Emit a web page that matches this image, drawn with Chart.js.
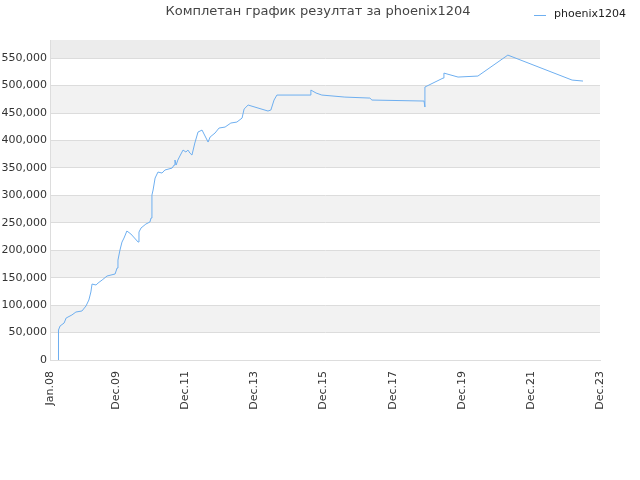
<!DOCTYPE html>
<html>
<head>
<meta charset="utf-8">
<script src="https://cdn.jsdelivr.net/npm/chart.js@4"></script>
<style>
  html, body { margin: 0; padding: 0; background: #fff; }
  #wrap { width: 640px; height: 480px; }
</style>
</head>
<body>
<div id="wrap"><canvas id="c"></canvas></div>
<script>
// x = months since Jan 2008, y = score
var months = [2.8, 2.8, 3.1, 3.5, 4.9, 5.6, 7.6, 9.0, 11.1, 12.5, 13.5, 14.2, 14.6, 16.0, 16.7, 18.1, 19.8, 22.6,
  23.3, 23.6, 24.3, 25.0, 25.7, 26.7, 28.1, 30.6, 30.9, 31.6, 33.3, 34.7, 35.1, 35.4, 35.8, 36.5, 37.5, 38.9,
  39.9, 42.4, 43.1, 43.4, 43.8, 44.4, 45.1, 46.2, 47.2, 47.9, 48.6, 49.3, 50.3, 51.4, 52.8, 54.9, 55.6, 57.3,
  58.7, 60.8, 62.8, 64.9, 66.7, 67.4, 68.8, 75.7, 76.7, 77.8, 78.8, 90.3, 90.6, 92.4, 94.4, 102.4, 111.1, 111.8,
  129.9, 130.2, 130.2, 136.5, 136.8, 141.7, 148.6, 159.0, 181.3, 185.1];
var scores = [0, 27300, 54600, 62000, 67400, 76500, 82000, 87400, 89300, 98400, 109300, 123900, 138400, 136600,
  140300, 145700, 153000, 156700, 167600, 182100, 200400, 214900, 222200, 235000, 229500, 214900, 233100, 240400,
  247700, 251400, 258700, 300500, 309700, 331500, 342400, 340600, 346100, 349700, 355200, 364300, 355200, 364300,
  371600, 382500, 378900, 382500, 377000, 373400, 395300, 415300, 418900, 397100, 406200, 413500, 422600, 424400,
  431700, 433500, 440800, 457200, 464500, 453600, 455400, 473600, 482700, 482700, 491800, 486400, 482700, 479000,
  477200, 473600, 471800, 460900, 497300, 513600, 522700, 515500, 517300, 555500, 510000, 508200];
var tickMonths = [0, 23, 47, 71, 95, 119, 143, 167, 191];
var tickLabels = ['Jan.08', 'Dec.09', 'Dec.11', 'Dec.13', 'Dec.15', 'Dec.17', 'Dec.19', 'Dec.21', 'Dec.23'];
var playerName = 'phoenix1204';
var lineColor = 'rgb(110,175,240)';

var points = months.map(function(m, i) { return { x: m, y: scores[i] }; });

var decor = {
  id: 'decor',
  beforeDraw: function(chart) {
    var ctx = chart.ctx, a = chart.chartArea, y = chart.scales.y;
    ctx.save();
    for (var v = 50000; v < 550000; v += 100000) {
      ctx.fillStyle = '#f2f2f2';
      ctx.fillRect(a.left, y.getPixelForValue(v + 50000), a.right - a.left, y.getPixelForValue(v) - y.getPixelForValue(v + 50000));
    }
    ctx.fillStyle = '#ececec';
    ctx.fillRect(a.left, a.top, a.right - a.left, y.getPixelForValue(550000) - a.top);
    ctx.restore();
  },
  afterDraw: function(chart) {
    var ctx = chart.ctx;
    ctx.save();
    ctx.font = '13px "DejaVu Sans", sans-serif';
    ctx.fillStyle = '#444';
    ctx.textAlign = 'center';
    ctx.textBaseline = 'middle';
    ctx.fillText('Комплетан график резултат за ' + playerName, 318, 12);
    ctx.font = '11px "DejaVu Sans", sans-serif';
    ctx.textAlign = 'left';
    ctx.fillStyle = '#222';
    ctx.fillText(playerName, 554, 14);
    ctx.strokeStyle = lineColor;
    ctx.lineWidth = 1;
    ctx.beginPath();
    ctx.moveTo(534, 15.5);
    ctx.lineTo(546, 15.5);
    ctx.stroke();
    ctx.restore();
  }
};

new Chart(document.getElementById('c').getContext('2d'), {
  type: 'line',
  data: {
    datasets: [{
      label: playerName,
      data: points,
      borderColor: lineColor,
      borderWidth: 1,
      pointRadius: 0,
      fill: false,
      tension: 0
    }]
  },
  options: {
    responsive: true,
    maintainAspectRatio: false,
    animation: false,
    layout: { padding: { top: 40, right: 40, left: 0, bottom: 0 } },
    plugins: { legend: { display: false }, title: { display: false }, tooltip: { enabled: false } },
    scales: {
      x: {
        type: 'linear',
        min: 0,
        max: 191,
        afterFit: function(s) { s.height = 120; },
        afterBuildTicks: function(s) { s.ticks = tickMonths.map(function(v) { return { value: v }; }); },
        ticks: {
          minRotation: 90,
          maxRotation: 90,
          color: '#333',
          font: { family: 'DejaVu Sans', size: 11 },
          callback: function(v) { return tickLabels[tickMonths.indexOf(v)]; }
        },
        grid: { display: false },
        border: { color: '#ddd' }
      },
      y: {
        min: 0,
        max: 583000,
        afterFit: function(s) { s.width = 50; },
        afterBuildTicks: function(s) {
          var t = [];
          for (var v = 0; v <= 550000; v += 50000) t.push({ value: v });
          s.ticks = t;
        },
        ticks: { color: '#333', font: { family: 'DejaVu Sans', size: 11 } },
        grid: { color: '#dcdcdc', drawTicks: false },
        border: { color: '#ddd' }
      }
    }
  },
  plugins: [decor]
});
</script>
</body>
</html>
